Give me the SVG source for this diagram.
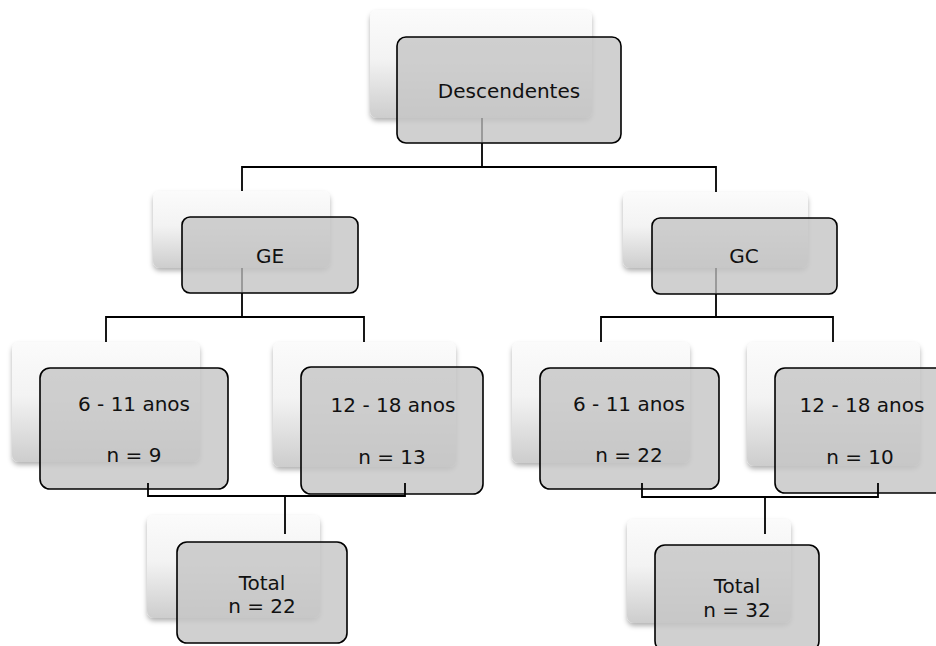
<svg xmlns="http://www.w3.org/2000/svg" width="936" height="646" viewBox="0 0 936 646">
<defs>
<linearGradient id="backGrad" x1="0" y1="0" x2="0" y2="1">
<stop offset="0" stop-color="#fbfbfb"/>
<stop offset="0.45" stop-color="#f3f3f3"/>
<stop offset="1" stop-color="#cdcdcd"/>
</linearGradient>
<filter id="shadow" x="-10%" y="-10%" width="120%" height="130%">
<feDropShadow dx="0" dy="3" stdDeviation="2.5" flood-color="#000" flood-opacity="0.3"/>
</filter>
<style>
.back{fill:url(#backGrad);filter:url(#shadow);}
.front{fill:#c6c6c6;fill-opacity:0.82;stroke:#000;stroke-width:1.6;}
.lbl{font-family:"DejaVu Sans","Liberation Sans",sans-serif;font-size:20px;fill:#111;text-anchor:middle;}
.conn{fill:none;stroke:#000;stroke-width:1.8;}
.dim{fill:none;stroke:#8c8c8c;stroke-width:1.6;}
</style>
</defs>
<rect width="936" height="646" fill="#fff"/>

<g id="node-descendentes">
<rect class="back" x="370" y="10" width="222" height="108" rx="7"/>
<rect class="front" x="397" y="37" width="224" height="106" rx="9"/>
<text class="lbl" x="509" y="98">Descendentes</text>
</g>

<g id="node-ge">
<rect class="back" x="153" y="191" width="177" height="77" rx="7"/>
<rect class="front" x="182" y="217" width="176" height="76" rx="8"/>
<text class="lbl" x="270" y="263">GE</text>
</g>

<g id="node-gc">
<rect class="back" x="623" y="192" width="185" height="76" rx="7"/>
<rect class="front" x="652" y="218" width="185" height="76" rx="8"/>
<text class="lbl" x="744" y="263">GC</text>
</g>

<g id="node-ge-6-11">
<rect class="back" x="12" y="342" width="188" height="120" rx="7"/>
<rect class="front" x="40" y="368" width="188" height="121" rx="10"/>
<text class="lbl" x="134" y="411">6 - 11 anos</text>
<text class="lbl" x="134" y="462">n = 9</text>
</g>

<g id="node-ge-12-18">
<rect class="back" x="273" y="342" width="183" height="125" rx="7"/>
<rect class="front" x="301" y="367" width="182" height="127" rx="10"/>
<text class="lbl" x="393" y="412">12 - 18 anos</text>
<text class="lbl" x="392" y="464">n = 13</text>
</g>

<g id="node-gc-6-11">
<rect class="back" x="512" y="342" width="178" height="121" rx="7"/>
<rect class="front" x="540" y="368" width="179" height="121" rx="10"/>
<text class="lbl" x="629" y="411">6 - 11 anos</text>
<text class="lbl" x="629" y="462">n = 22</text>
</g>

<g id="node-gc-12-18">
<rect class="back" x="747" y="342" width="173" height="124" rx="7"/>
<rect class="front" x="775" y="368" width="174" height="125" rx="10"/>
<text class="lbl" x="862" y="412">12 - 18 anos</text>
<text class="lbl" x="860" y="464">n = 10</text>
</g>

<g id="node-ge-total">
<rect class="back" x="147" y="515" width="173" height="103" rx="7"/>
<rect class="front" x="177" y="542" width="170" height="101" rx="10"/>
<text class="lbl" x="262" y="590">Total</text>
<text class="lbl" x="262" y="613">n = 22</text>
</g>

<g id="node-gc-total">
<rect class="back" x="627" y="519" width="164" height="104" rx="7"/>
<rect class="front" x="655" y="545" width="164" height="106" rx="10"/>
<text class="lbl" x="737" y="593">Total</text>
<text class="lbl" x="737" y="617">n = 32</text>
</g>

<g id="connectors">
<line class="dim" x1="482" y1="118" x2="482" y2="142"/>
<line class="dim" x1="242" y1="268" x2="242" y2="292"/>
<line class="dim" x1="716" y1="268" x2="716" y2="293"/>
<path class="conn" d="M482,143 V167 M242,191 V167 H716 V192"/>
<path class="conn" d="M242,293 V317 M106,342 V317 H364 V342"/>
<path class="conn" d="M716,294 V317 M601,342 V317 H833 V342"/>
<path class="conn" d="M148,483 V496 H405 V483 M285,496 V534"/>
<path class="conn" d="M642,483 V497 H878 V483 M765,497 V534"/>
</g>
</svg>
